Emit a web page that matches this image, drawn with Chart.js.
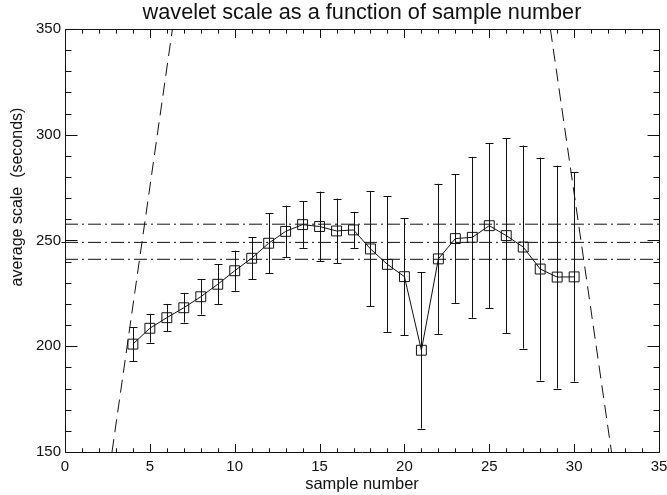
<!DOCTYPE html>
<html>
<head>
<meta charset="utf-8">
<script src="https://cdn.jsdelivr.net/npm/chart.js@4/dist/chart.umd.min.js"></script>
<style>
  html, body { margin: 0; padding: 0; background: #ffffff; }
  #c { display: block; }
</style>
</head>
<body>
<canvas id="c" width="667" height="495"></canvas>
<script>
// ---------------- data ----------------
const sampleNumbers = [4, 5, 6, 7, 8, 9, 10, 11, 12, 13, 14, 15, 16, 17, 18, 19, 20, 21, 22, 23, 24, 25, 26, 27, 28, 29, 30];
const averageScale  = [201, 208.5, 213.5, 218.2, 223.4, 229.3, 235.7, 241.6, 248.7, 254.3, 257.5, 256.6, 254.5, 255, 246, 238.7, 232.9, 198.1, 241.3, 250.9, 251.5, 257, 252.3, 246.9, 236.5, 232.7, 232.8];
const scaleError    = [8, 6.8, 6.5, 7, 8.4, 9.4, 9.5, 9.9, 14.3, 12.2, 11, 16.5, 15.3, 8.5, 27.2, 32.2, 27.6, 37, 35.5, 30.4, 38, 38.9, 46, 48, 52.7, 52.7, 49.5];
const referenceLevels = [257.7, 249.1, 241.1];
const leftConeX  = [2.77, 6.33];
const leftConeY  = [150, 350];
const rightConeX = [28.6, 32.2];
const rightConeY = [350, 150];
const xTickLabels = [0, 5, 10, 15, 20, 25, 30, 35];
const yTickLabels = [150, 200, 250, 300, 350];

const titleText  = 'wavelet scale as a function of sample number';
const xTitleText = 'sample number';
const yTitleText = 'average scale  (seconds)';

// ---------------- helpers ----------------
const FONT = "'Liberation Sans', Arial, sans-serif";
const INK = '#111111';

const mainPoints = sampleNumbers.map((x, i) => ({ x: x, y: averageScale[i] }));
const levelDatasets = referenceLevels.map(v => ({
  data: [{ x: 0, y: v }, { x: 35, y: v }],
  showLine: true, borderColor: INK, borderWidth: 1,
  borderDash: [13, 4, 2, 4], pointRadius: 0, fill: false
}));
const coneDatasets = [[leftConeX, leftConeY], [rightConeX, rightConeY]].map(([xs, ys]) => ({
  data: xs.map((x, i) => ({ x: x, y: ys[i] })),
  showLine: true, borderColor: INK, borderWidth: 1,
  borderDash: [13, 7], pointRadius: 0, fill: false
}));

// error bars, drawn through the chart scales
const errorBarPlugin = {
  id: 'errorBars',
  afterDatasetsDraw(chart) {
    const { ctx, chartArea: a, scales: { x, y } } = chart;
    ctx.save();
    ctx.beginPath();
    ctx.rect(a.left, a.top, a.right - a.left, a.bottom - a.top);
    ctx.clip();
    ctx.strokeStyle = INK;
    ctx.lineWidth = 1;
    sampleNumbers.forEach((sx, i) => {
      const px = Math.round(x.getPixelForValue(sx)) + 0.5;
      const hi = y.getPixelForValue(averageScale[i] + scaleError[i]);
      const lo = y.getPixelForValue(averageScale[i] - scaleError[i]);
      ctx.beginPath();
      ctx.moveTo(px, hi); ctx.lineTo(px, lo);
      ctx.moveTo(px - 4, Math.round(hi) + 0.5); ctx.lineTo(px + 4, Math.round(hi) + 0.5);
      ctx.moveTo(px - 4, Math.round(lo) + 0.5); ctx.lineTo(px + 4, Math.round(lo) + 0.5);
      ctx.stroke();
    });
    ctx.restore();
  }
};

// IDL style box with inward ticks on all four sides
const framePlugin = {
  id: 'frame',
  afterDraw(chart) {
    const { ctx, chartArea: a, scales: { x, y } } = chart;
    ctx.save();
    ctx.strokeStyle = INK;
    ctx.lineWidth = 1;
    const L = a.left + 0.5, R = a.right + 0.5, T = a.top + 0.5, B = a.bottom + 0.5;
    ctx.beginPath();
    ctx.rect(L, T, R - L, B - T);
    ctx.stroke();
    ctx.beginPath();
    for (let v = x.min; v <= x.max + 1e-9; v += 1) {
      const px = Math.round(x.getPixelForValue(v)) + 0.5;
      const len = (v % 5 === 0) ? 8.5 : 4.2;
      ctx.moveTo(px, B); ctx.lineTo(px, B - len);
      ctx.moveTo(px, T); ctx.lineTo(px, T + len);
    }
    for (let v = y.min; v <= y.max + 1e-9; v += 10) {
      const py = Math.round(y.getPixelForValue(v)) + 0.5;
      const len = (v % 50 === 0) ? 12 : 6;
      ctx.moveTo(L, py); ctx.lineTo(L + len, py);
      ctx.moveTo(R, py); ctx.lineTo(R - len, py);
    }
    // small outside mark at the middle reference level
    const pm = Math.round(y.getPixelForValue(referenceLevels[1])) + 0.5;
    ctx.moveTo(L - 4, pm); ctx.lineTo(L, pm);
    ctx.stroke();
    // y axis title
    ctx.fillStyle = INK;
    ctx.font = '16px ' + FONT;
    ctx.textAlign = 'center';
    ctx.textBaseline = 'middle';
    ctx.translate(18, 197);
    ctx.rotate(-Math.PI / 2);
    ctx.fillText(yTitleText, 0, 0);
    ctx.restore();
  }
};

new Chart(document.getElementById('c'), {
  type: 'scatter',
  data: {
    datasets: [
      {
        data: mainPoints,
        showLine: true,
        borderColor: INK,
        borderWidth: 1,
        pointStyle: 'rect',
        pointRadius: 7,
        pointHoverRadius: 7,
        pointBorderColor: INK,
        pointBorderWidth: 1,
        pointBackgroundColor: 'rgba(0,0,0,0)',
        tension: 0,
        fill: false
      },
      ...levelDatasets,
      ...coneDatasets
    ]
  },
  options: {
    responsive: false,
    animation: false,
    devicePixelRatio: 1,
    layout: { padding: { left: 0, right: 7, top: 0, bottom: 0 } },
    plugins: {
      legend: { display: false },
      tooltip: { enabled: false },
      title: {
        display: true,
        text: titleText,
        fullSize: false,
        color: INK,
        font: { family: FONT, size: 21.7, weight: 'normal', lineHeight: 1.1 },
        padding: { top: 1, bottom: 4.1 }
      }
    },
    scales: {
      x: {
        type: 'linear', position: 'bottom', min: 0, max: 35,
        grid: { display: false, drawTicks: false },
        border: { display: false },
        ticks: {
          stepSize: 5, padding: 6, color: INK, maxRotation: 0, autoSkip: false,
          font: { family: FONT, size: 15 },
          callback: (v) => xTickLabels.includes(v) ? String(v) : ''
        },
        title: {
          display: true, text: xTitleText, color: INK,
          font: { family: FONT, size: 16.5 },
          padding: { top: 0, bottom: 1 }
        },
        afterFit(s) { s.height = 43; s.paddingLeft = 0; s.paddingRight = 0; }
      },
      y: {
        type: 'linear', position: 'left', min: 150, max: 350,
        grid: { display: false, drawTicks: false },
        border: { display: false },
        ticks: {
          stepSize: 50, padding: 4, color: INK,
          font: { family: FONT, size: 15 },
          callback: (v) => yTickLabels.includes(v) ? String(v) : ''
        },
        afterFit(s) { s.width = 65; s.paddingTop = 0; s.paddingBottom = 0; }
      }
    }
  },
  plugins: [errorBarPlugin, framePlugin]
});
</script>
</body>
</html>
